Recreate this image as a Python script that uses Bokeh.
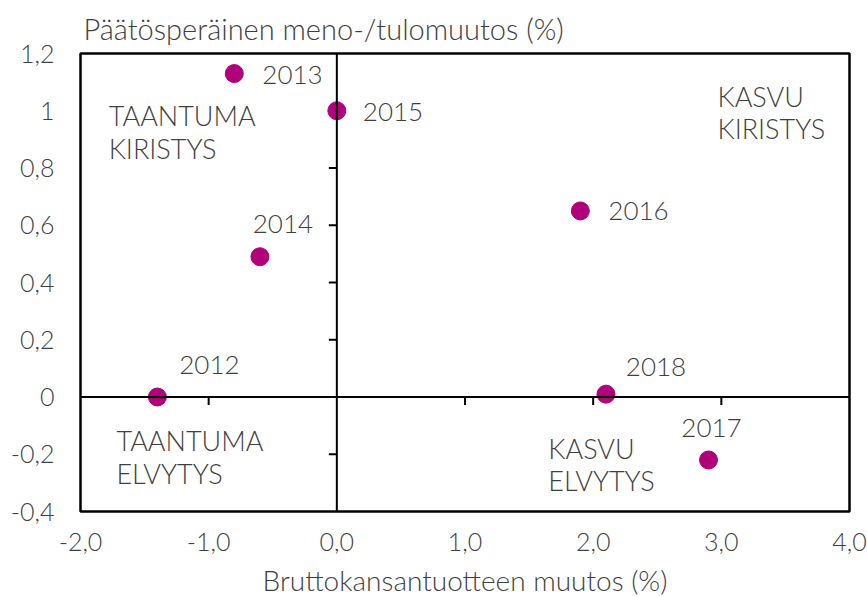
from bokeh.plotting import figure
from bokeh.models import ColumnDataSource, Span, FixedTicker, Range1d
from bokeh.core.properties import value
from bokeh.embed import file_html
from bokeh.resources import INLINE

# ---- data ----
years = ["2012", "2013", "2014", "2015", "2016", "2017", "2018"]
gdp_change = [-1.4, -0.8, -0.6, 0.0, 1.9, 2.9, 2.1]
fiscal_change = [0.0, 1.13, 0.49, 1.0, 0.65, -0.22, 0.01]

x_ticks = [-2.0, -1.0, 0.0, 1.0, 2.0, 3.0, 4.0]
x_tick_labels = ["-2,0", "-1,0", "0,0", "1,0", "2,0", "3,0", "4,0"]
y_ticks = [-0.4, -0.2, 0.0, 0.2, 0.4, 0.6, 0.8, 1.0, 1.2]
y_tick_labels = ["-0,4", "-0,2", "0", "0,2", "0,4", "0,6", "0,8", "1", "1,2"]

quadrant_lines = ["TAANTUMA", "KIRISTYS", "KASVU", "KIRISTYS",
                  "TAANTUMA", "ELVYTYS", "KASVU", "ELVYTYS"]
quadrant_x = [-1.78, -1.78, 2.97, 2.97, -1.72, -1.72, 1.65, 1.65]
quadrant_y = [0.984, 0.869, 1.051, 0.939, -0.152, -0.267, -0.180, -0.292]

title_text = "Päätösperäinen meno-/tulomuutos (%)"
x_title = "Bruttokansantuotteen muutos (%)"

# ---- styling / layout ----
FONT = "Lato Light, Lato, Open Sans, sans-serif"
TEXT_COLOR = "#3f3f3f"
POINT_COLOR = "#b0007a"
label_dx = {"2012": 52, "2013": 28, "2014": 23, "2015": 26, "2016": 28, "2017": 3, "2018": 50}
label_dy = {"2012": -32, "2013": 1, "2014": -33, "2015": 1, "2016": 0, "2017": -32, "2018": -27}
label_align = {"2012": "center", "2013": "left", "2014": "center", "2015": "left",
               "2016": "left", "2017": "center", "2018": "center"}

p = figure(width=867, height=597, output_backend="svg", toolbar_location=None,
           x_range=Range1d(-2.0, 4.0), y_range=Range1d(-0.4, 1.2),
           frame_width=769, frame_height=458,
           min_border_left=80, min_border_right=18, min_border_top=53, min_border_bottom=86)

p.background_fill_color = "white"
p.border_fill_color = "white"
p.outline_line_color = "black"
p.outline_line_width = 2.5
p.xgrid.visible = False
p.ygrid.visible = False

p.title.text = title_text
p.title.text_font = FONT
p.title.text_font_style = "normal"
p.title.text_font_size = "29px"
p.title.text_color = TEXT_COLOR
p.title.text_line_height = 0.8
p.title.align = "left"
p.title.offset = 3
p.title.standoff = 16

for ax in (p.xaxis[0], p.yaxis[0]):
    ax.axis_line_color = None
    ax.major_tick_line_color = None
    ax.minor_tick_line_color = None
    ax.major_tick_in = 0
    ax.major_tick_out = 0
    ax.major_label_text_font = FONT
    ax.major_label_text_font_size = "25px"
    ax.major_label_text_color = TEXT_COLOR

p.xaxis.ticker = FixedTicker(ticks=x_ticks)
p.xaxis.major_label_overrides = {t: l for t, l in zip(x_ticks, x_tick_labels)}
p.xaxis.major_label_standoff = 21
p.xaxis.axis_label = x_title
p.xaxis.axis_label_text_font = FONT
p.xaxis.axis_label_text_font_style = "normal"
p.xaxis.axis_label_text_font_size = "28px"
p.xaxis.axis_label_text_color = TEXT_COLOR
p.xaxis.axis_label_standoff = 9

p.yaxis.ticker = FixedTicker(ticks=y_ticks)
p.yaxis.major_label_overrides = {t: l for t, l in zip(y_ticks, y_tick_labels)}
p.yaxis.major_label_standoff = 26

# crossing axes at origin
p.add_layout(Span(location=0, dimension="height", line_color="black", line_width=2))
p.add_layout(Span(location=0, dimension="width", line_color="black", line_width=2))

# tick marks on the crossing axes
tick_len_x = 8 / 286.0   # data units (down from y=0)
tick_len_y = 8 / 128.0   # data units (left of x=0)
xt = [t for t in x_ticks if t not in (-2.0, 0.0, 4.0)]
yt = [t for t in y_ticks if t not in (-0.4, 0.0, 1.2)]
p.segment(x0=xt, y0=[0] * len(xt), x1=xt, y1=[-tick_len_x] * len(xt),
          line_color="black", line_width=2)
p.segment(x0=[0] * len(yt), y0=yt, x1=[-tick_len_y] * len(yt), y1=yt,
          line_color="black", line_width=2)

# points
src = ColumnDataSource(dict(
    x=gdp_change, y=fiscal_change, year=years,
    dx=[label_dx[y] for y in years],
    dy=[label_dy[y] for y in years],
    align=[label_align[y] for y in years],
))
p.scatter("x", "y", source=src, size=18, fill_color=POINT_COLOR, line_color=POINT_COLOR)

p.text("x", "y", text="year", source=src, x_offset="dx", y_offset="dy",
       text_align="align", text_baseline="middle",
       text_font=value(FONT), text_font_size="26px", text_color=TEXT_COLOR)

p.text(x=quadrant_x, y=quadrant_y, text=quadrant_lines,
       text_align="left", text_baseline="middle",
       text_font=value(FONT), text_font_size="27px", text_color=TEXT_COLOR)

open("out.html", "w").write(file_html(p, INLINE))
